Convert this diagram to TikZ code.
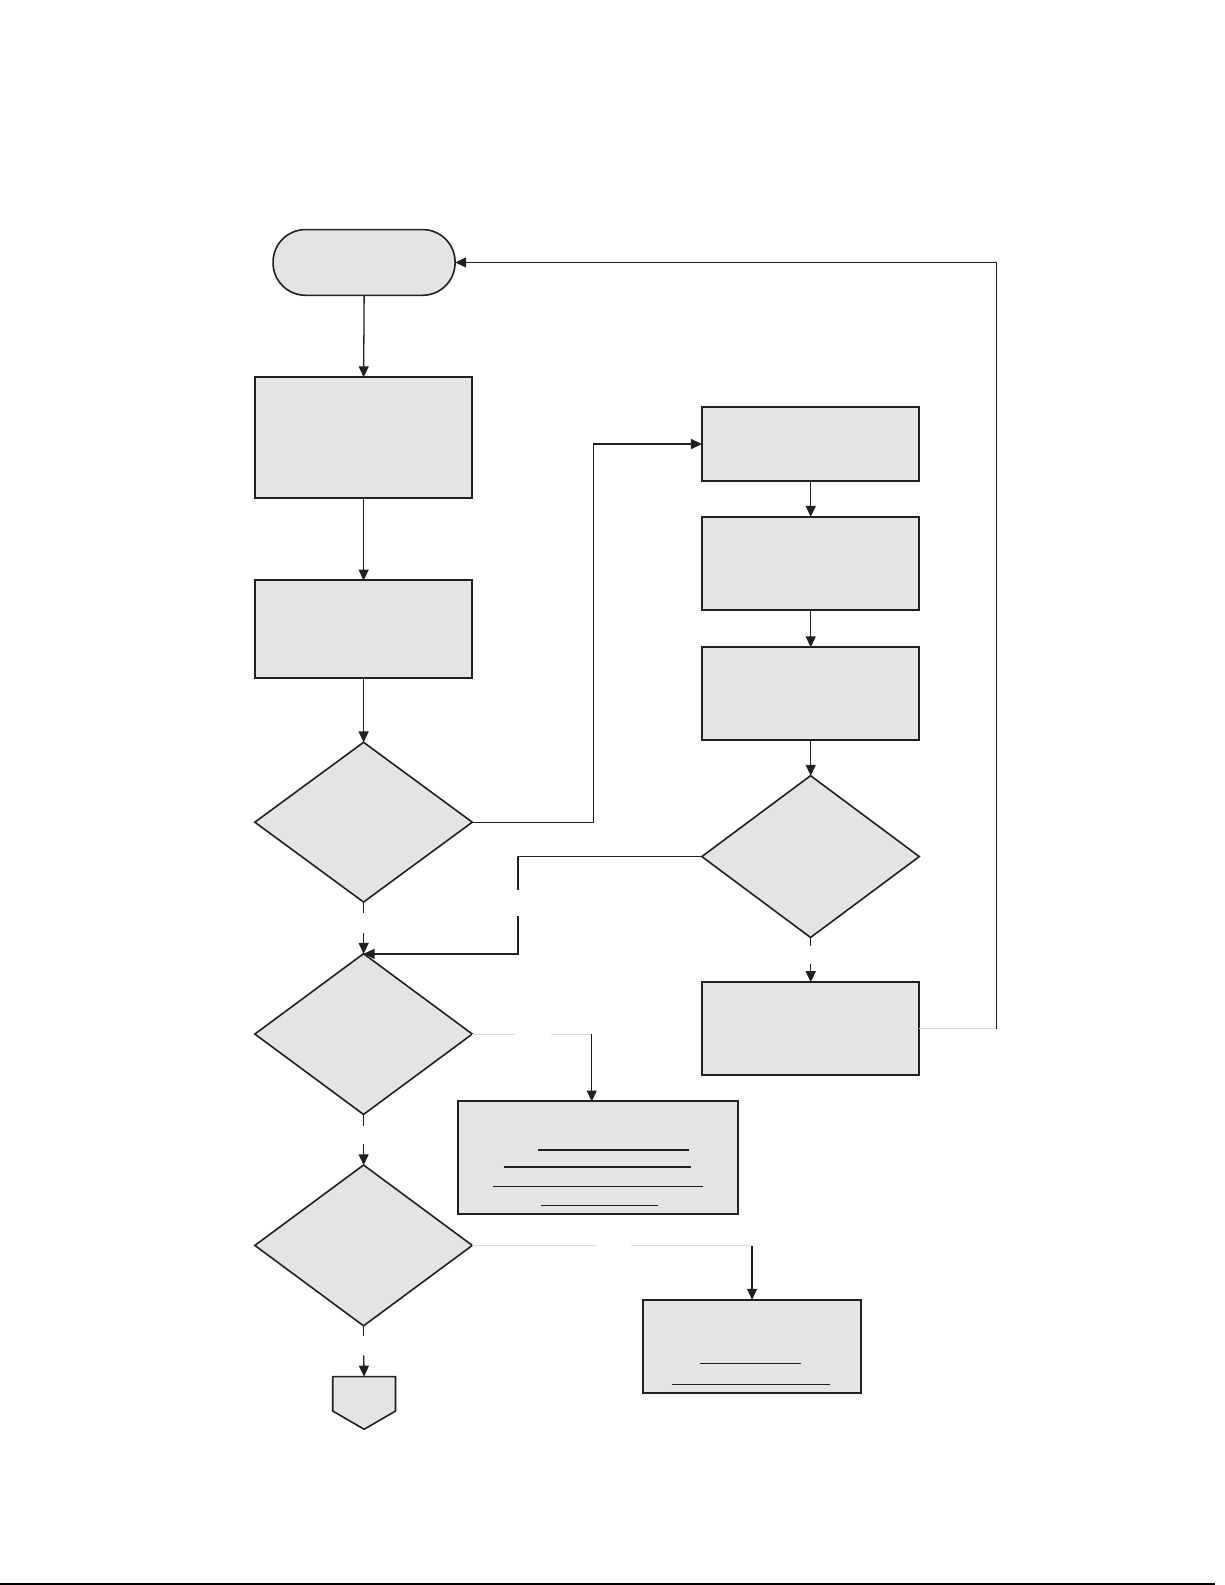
\documentclass[tikz,border=0pt]{standalone}
\usetikzlibrary{shapes.geometric,arrows.meta,calc}
\definecolor{boxfill}{RGB}{228,228,228}
\definecolor{edge}{RGB}{35,31,32}
\definecolor{faintgray}{RGB}{218,218,218}
\tikzset{
  box/.style={draw=edge, fill=boxfill, line width=2pt, inner sep=0pt, outer sep=0pt, minimum width=215pt},
  dia/.style={diamond, draw=edge, fill=boxfill, line width=1.6pt, inner sep=0pt, outer sep=0pt, minimum width=215pt, minimum height=158pt},
  conn/.style={draw=edge, line width=1.3pt},
  arr/.style={conn, -{Triangle[length=11pt,width=10pt]}},
  faint/.style={draw=faintgray, line width=1.3pt},
  uline/.style={draw=edge, line width=1.3pt},
}
\begin{document}
\begin{tikzpicture}[x=1pt,y=-1pt,scale=1.0113,every node/.append style={transform shape}]
\useasboundingbox (0,0) rectangle (1211.3,1567.3);
% left column
\node[box, line width=1.6pt, minimum width=180pt, minimum height=65pt, rounded corners=32.5pt] (term) at (360,259.5) {};
\node[box, minimum height=119pt] (b1) at (359.5,432.5) {};
\node[box, minimum height=96pt] (b2) at (359.5,622) {};
\node[dia, minimum height=158pt] (d1) at (359.5,813) {};
\node[dia, minimum height=159pt] (d2) at (359.5,1022.5) {};
\node[dia, minimum height=159pt] (d3) at (359.5,1231.5) {};
\node[inner sep=0pt, outer sep=0pt, minimum width=62pt, minimum height=52pt] (off) at (360,1387) {};
\filldraw[draw=edge, fill=boxfill, line width=1.6pt, line join=miter]
  (off.north west) -- (off.north east) -- ($(off.north east)+(0,34)$) -- (off.south) -- ($(off.north west)+(0,34)$) -- cycle;
% right column
\node[box, minimum height=74pt] (r1) at (801.5,439) {};
\node[box, minimum height=92pt] (r2) at (801.5,557) {};
\node[box, minimum height=92pt] (r3) at (801.5,686) {};
\node[dia, minimum height=160pt] (dr) at (801.5,847) {};
\node[box, minimum height=92pt] (r4) at (801.5,1017) {};
% lower boxes
\node[box, minimum width=277pt, minimum height=111pt] (u1) at (591.5,1144.5) {};
\node[box, minimum width=215pt, minimum height=92pt] (u2) at (743.5,1331) {};
% underlines in u1
\draw[uline] (532,1137) -- (681,1137);
\draw[uline] (498,1154) -- (683,1154);
\draw[uline] (487,1173) -- (695,1173);
\draw[uline] (535,1192) -- (651,1192);
% underlines in u2
\draw[uline] (692,1348) -- (792,1348);
\draw[uline] (664,1369) -- (821,1369);
% coordinates
\coordinate (g1a) at (359.5,903);
\coordinate (g1b) at (359.5,922);
\coordinate (k1) at (587,813);
\coordinate (g2a) at (587,602);
\coordinate (g2b) at (587,624);
\coordinate (k2) at (587,439);
\coordinate (k3) at (512,847);
\coordinate (g3a) at (512,880);
\coordinate (g3b) at (512,906);
\coordinate (k4) at (512,943);
\coordinate (g4a) at (801.5,935);
\coordinate (g4b) at (801.5,953);
\coordinate (k5) at (985,1017);
\coordinate (k6) at (985,259.5);
\coordinate (g5a) at (509,1022.5);
\coordinate (g5b) at (545,1022.5);
\coordinate (k7) at (585,1022.5);
\coordinate (k8) at (585,1089);
\coordinate (g6a) at (589,1231.5);
\coordinate (g6b) at (624,1231.5);
\coordinate (k9) at (743.5,1231.5);
\coordinate (g7a) at (359.5,1321);
\coordinate (g7b) at (359.5,1340);
\coordinate (g8a) at (359.5,1113);
\coordinate (g8b) at (359.5,1131);
% connectors
\draw[arr] (term.south) -- (b1.north);
\draw[arr] (b1.south) -- (b2.north);
\draw[arr] (b2.south) -- (d1.north);
\draw[conn] (d1.south) -- (g1a);
\draw[arr] (g1b) -- (d2.north);
\draw[conn] (d1.east) -- (k1) -- (g2a);
\draw[arr] (g2b) -- (k2) -- (r1.west);
\draw[arr] (r1.south) -- (r2.north);
\draw[arr] (r2.south) -- (r3.north);
\draw[arr] (r3.south) -- (dr.north);
\draw[conn] (dr.west) -- (k3) -- (g3a);
\draw[arr] (g3b) -- (k4) -- (d2.north);
\draw[conn] (dr.south) -- (g4a);
\draw[arr] (g4b) -- (r4.north);
\draw[faint] (r4.east) -- (k5);
\draw[arr] (k5) -- (k6) -- (term.east);
\draw[faint] (d2.east) -- (g5a);
\draw[faint] (g5b) -- (k7);
\draw[arr] (k7) -- (k8);
\draw[faint] (d3.east) -- (g6a);
\draw[faint] (g6b) -- (k9);
\draw[arr] (k9) -- (u2.north);
\draw[conn] (d2.south) -- (g8a);
\draw[arr] (g8b) -- (d3.north);
\draw[conn] (d3.south) -- (g7a);
\draw[arr] (g7b) -- (off.north);
% bottom rule
\coordinate (bl) at (0,1565.5);
\coordinate (br) at (1201,1565.5);
\draw[draw=black, line width=2pt] (bl) -- (br);
\end{tikzpicture}
\end{document}
